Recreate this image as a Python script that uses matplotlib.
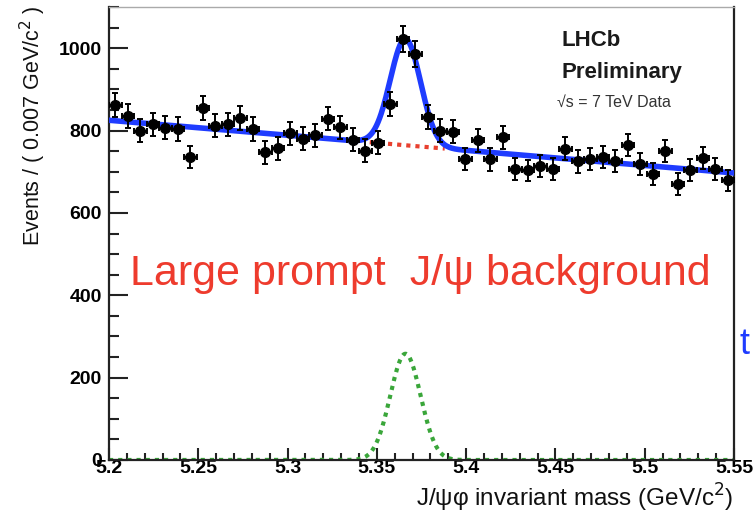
import numpy as np
import matplotlib

matplotlib.use('Agg')
import matplotlib.pyplot as plt
from matplotlib.ticker import MultipleLocator, FixedLocator, FixedFormatter

plt.rcParams['font.family'] = ['Liberation Sans', 'DejaVu Sans']

# J/psi phi mass spectrum, 50 bins of 7 MeV from 5.2 to 5.55 GeV
bin_lo = 5.2
bin_width = 0.007
counts = np.array([863, 836, 800, 815, 807, 804, 735, 855, 812, 815,
                   831, 804, 747, 757, 793, 780, 788, 829, 808, 778,
                   751, 770, 865, 1022, 986, 832, 800, 797, 731, 776,
                   730, 784, 707, 703, 715, 707, 756, 725, 731, 735,
                   727, 765, 718, 695, 750, 670, 705, 733, 707, 679])

# fit result: linear background plus gaussian signal
bkg_at_lo = 825.0
bkg_at_hi = 697.0
sig_peak = 258.0
sig_mean = 5.366
sig_sigma = 0.0085
bkg_window = (5.346, 5.388)

x_ticks = [5.2, 5.25, 5.3, 5.35, 5.4, 5.45, 5.5, 5.55]
x_labels = ["5.2", "5.25", "5.3", "5.35", "5.4", "5.45", "5.5", "5.55"]
y_ticks = [0, 200, 400, 600, 800, 1000]


def background(m):
    return bkg_at_lo + (bkg_at_hi - bkg_at_lo) * (m - 5.2) / 0.35


def signal(m):
    return sig_peak * np.exp(-0.5 * ((m - sig_mean) / sig_sigma) ** 2)


centers = bin_lo + bin_width * (np.arange(len(counts)) + 0.5)
m = np.linspace(5.2, 5.55, 800)
mw = np.linspace(bkg_window[0], bkg_window[1], 100)

fig = plt.figure(figsize=(7.56, 5.15), dpi=100)
ax = fig.add_axes([0.1442, 0.1068, 0.8267, 0.8796])

ax.plot(m, signal(m), color='#3aa63a', lw=3, ls=(0, (1, 1.2)), zorder=2)
ax.plot(mw, background(mw), color='#e8402f', lw=3, ls=(0, (1, 1.2)), zorder=2)
ax.plot(m, background(m) + signal(m), color='#1f3cff', lw=4, zorder=3)
ax.errorbar(centers, counts, yerr=np.sqrt(counts), xerr=bin_width / 2,
            fmt='o', color='black', ms=7, elinewidth=1.4, capsize=2.5,
            capthick=1.4, zorder=4)

ax.set_xlim(5.2, 5.55)
ax.set_ylim(0, 1100)
ax.xaxis.set_major_locator(FixedLocator(x_ticks))
ax.xaxis.set_major_formatter(FixedFormatter(x_labels))
ax.xaxis.set_minor_locator(MultipleLocator(0.01))
ax.yaxis.set_major_locator(FixedLocator(y_ticks))
ax.yaxis.set_minor_locator(MultipleLocator(50))

ax.tick_params(axis='both', which='both', direction='in', top=False, right=False,
               labelsize=14, width=1.5, color='#222222')
ax.tick_params(axis='y', which='major', length=14, pad=5)
ax.tick_params(axis='y', which='minor', length=7)
ax.tick_params(axis='x', which='major', length=9, pad=0)
ax.tick_params(axis='x', which='minor', length=5)
for lab in ax.get_xticklabels() + ax.get_yticklabels():
    lab.set_fontweight('bold')

for side in ['left', 'bottom', 'right']:
    ax.spines[side].set_linewidth(1.6)
    ax.spines[side].set_color('#222222')
ax.spines['top'].set_linewidth(1.0)
ax.spines['top'].set_color('#aaaaaa')

ax.text(0.724, 0.925, "LHCb", transform=ax.transAxes, fontsize=16,
        fontweight='bold', color='#1a1a1a', va='center')
ax.text(0.724, 0.855, "Preliminary", transform=ax.transAxes, fontsize=16,
        fontweight='bold', color='#1a1a1a', va='center')
ax.text(0.717, 0.79, "\u221as = 7 TeV Data", transform=ax.transAxes, fontsize=11.5,
        color='#333333', va='center')

ax.text(0.034, 0.41, "Large prompt  J/\u03c8 background", transform=ax.transAxes,
        fontsize=31, color='#ee3b2d', va='center')

fig.text(33 / 756, 1 - 6 / 515, "Events / ( 0.007 GeV/c$^2$ )", rotation=90,
         ha='center', va='top', fontsize=15.5, color='#111111')
fig.text(733 / 756, 1 - 498 / 515, "J/\u03c8\u03c6 invariant mass (GeV/c$^2$)",
         ha='right', va='center', fontsize=17.5, color='#111111')
fig.text(739 / 756, 1 - 344 / 515, "t", ha='left', va='center',
         fontsize=26, color='#1f3cff')

fig.savefig("out.png", dpi=100)
plt.close(fig)
